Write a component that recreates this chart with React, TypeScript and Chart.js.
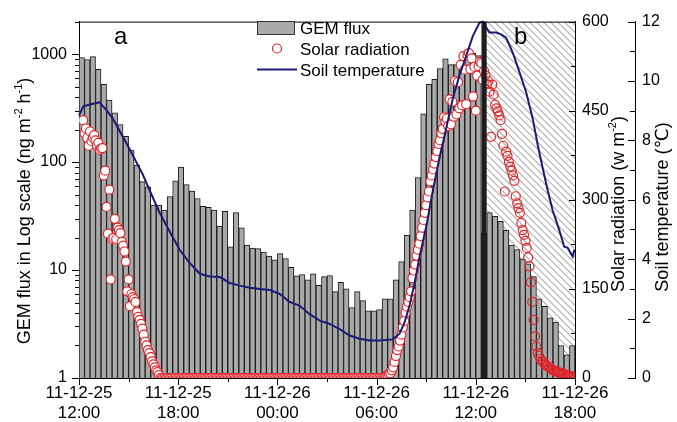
import React, { useEffect, useRef } from 'react';
import { Chart, registerables } from 'chart.js';

Chart.register(...registerables);

const FONT = '"Liberation Sans", Arial, Helvetica, "DejaVu Sans", sans-serif';

// ---- time axis (hours after 11-12-25 12:00) ----
const xTickHours = [0, 6, 12, 18, 24, 30];
const xTickDates = ['11-12-25', '11-12-25', '11-12-26', '11-12-26', '11-12-26', '11-12-26'];
const xTickTimes = ['12:00', '18:00', '00:00', '06:00', '12:00', '18:00'];
const yTicks = [1, 10, 100, 1000];
const bandTime = 24.5; // boundary between period a and b

// ---- GEM flux (ng m-2 h-1), 20-min bars from 12:00 ----
const barStep = 1 / 3;
const gemFlux = [
  929, 891, 949, 722, 526, 376, 286, 222, 173, 129,
  94, 66, 59, 40, 40, 36, 48, 67, 90, 62,
  54, 46, 39, 38, 36, 25.5, 35, 16.4, 34, 24.6,
  17, 16, 15.8, 14.7, 13.5, 12.4, 14.2, 12.8, 10.6, 8.85,
  9.1, 8.1, 9.2, 7.2, 8.7, 8.9, 6.3, 7.7, 6.7, 4.5,
  6.3, 5.2, 4.2, 4.2, 4.3, 5.4, 5.4, 8.1, 12, 21,
  36, 72, 280, 525, 585, 733, 906, 800, 800, 776,
  1100, 1024, 967, 22, 34, 31.5, 28.3, 23.3, 17, 15.5,
  12.6, 11.4, 8.7, 5.4, 4.6, 3.6, 3.3, 2.0, 1.64, 2.0,
];

// ---- Solar radiation (W m-2), 5-min values from 12:15 ----
const solarStart = 0.25;
const solarStep = 5 / 60;
const solarAfternoon = [
  434, 412, 420, 404, 391, 415, 399, 405, 409, 400,
  392, 396, 384, 386, 387, 341, 349, 288, 243, 317,
  166, 234, 236, 268, 234, 253, 249, 244, 229, 223,
  213, 196, 146, 166, 121, 141, 136, 133, 128, 111,
  103, 98, 91, 83, 73, 61, 55, 47, 42, 35,
  28, 23, 18, 13, 10, 5,
];
const solarNight = [
  0, 0, 0, 0, 0, 0, 0, 0, 0, 0,
  0, 0, 0, 0, 0, 0, 0, 0, 0, 0,
  0, 0, 0, 0, 0, 0, 0, 0, 0, 0,
  0, 0, 0, 0, 0, 0, 0, 0, 0, 0,
  0, 0, 0, 0, 0, 0, 0, 0, 0, 0,
  0, 0, 0, 0, 0, 0, 0, 0, 0, 0,
  0, 0, 0, 0, 0, 0, 0, 0, 0, 0,
  0, 0, 0, 0, 0, 0, 0, 0, 0, 0,
  0, 0, 0, 0, 0, 0, 0, 0, 0, 0,
  0, 0, 0, 0, 0, 0, 0, 0, 0, 0,
  0, 0, 0, 0, 0, 0, 0, 0, 0, 0,
  0, 0, 0, 0, 0, 0, 0, 0, 0, 0,
  0, 0, 0, 0, 0, 0, 0, 0, 0, 0,
  0, 0, 0, 0, 0, 0, 0, 0, 0, 0,
  0, 0, 0, 0, 0, 0, 0, 0, 0, 0,
  0, 0, 0, 0, 0, 0, 0, 0, 0, 0,
  0, 0, 0, 0,
];
const solarMorning = [
  4, 5, 7, 8, 13, 18, 27, 37, 47, 53,
  63, 73, 85, 96, 110, 120, 128, 136, 146, 168,
  181, 191, 206, 216, 226, 239, 253, 266, 278, 291,
  304, 314, 331, 341, 351, 361, 372, 382, 394, 400,
  412, 419, 439, 432, 437, 424, 469, 427, 465, 440,
  500, 444, 498, 454, 527, 459, 542, 519, 461, 543,
  547, 520, 538, 474, 524, 450, 509, 525, 532, 530,
  502, 517,
];
const solarNoon = [
  510, 494, 500, 482, 406, 494, 477, 460, 454, 449,
  442, 434, 411, 391, 314, 381, 374, 364, 356, 349,
  341, 332, 306, 294, 286, 278, 261, 249, 241, 231,
  219, 203, 188, 161, 128, 98, 70, 53, 42, 37,
  32, 28, 27, 23, 22, 20, 18, 17, 15, 13,
  12, 12, 10, 10, 8, 8, 7, 7, 5, 5,
  5, 3, 3, 2, 2, 0,
];

// ---- Soil temperature (°C) ----
const soilTime = [
  0, 0.26, 0.66, 1.23, 1.57, 2.04, 2.96, 3.85, 4.85, 5.66,
  6.10, 6.70, 7.31, 7.91, 8.52, 9.12, 9.72, 10.33, 10.93, 11.54,
  12.14, 12.74, 13.35, 13.95, 14.56, 15.16, 15.76, 16.37, 16.97, 17.58,
  18.18, 18.98, 19.39, 19.69, 19.99, 20.30, 20.60, 21.00, 21.40, 21.80,
  22.21, 22.61, 23.01, 23.42, 23.82, 24.22, 24.42, 24.82, 25.23, 25.53,
  25.83, 26.23, 26.64, 27.04, 27.44, 27.74, 28.04, 28.35, 28.65, 29.05,
  29.35, 29.55, 29.72, 29.86, 29.96,
];
const soilTemp = [
  8.84, 9.15, 9.21, 9.28, 9.08, 8.74, 7.81, 6.86, 5.59, 4.75,
  4.31, 3.87, 3.51, 3.42, 3.40, 3.20, 3.11, 3.04, 3.00, 2.96,
  2.83, 2.56, 2.43, 2.15, 1.93, 1.82, 1.65, 1.43, 1.32, 1.26,
  1.26, 1.30, 1.49, 1.87, 2.43, 3.20, 4.09, 5.09, 6.31, 7.41,
  8.41, 9.41, 10.18, 10.85, 11.51, 11.96, 12.0, 11.63, 11.63, 11.57,
  11.46, 10.96, 10.30, 9.63, 8.74, 7.86, 7.08, 6.31, 5.64, 4.98,
  4.42, 4.39, 4.22, 4.09, 4.32,
];

const BAR_FILL = '#a9a9a9';
const BAR_EDGE = '#1a1a1a';
const SOLAR_RED = '#e0262a';
const SOIL_NAVY = '#1b1b7a';

type Part = { t: string; sup?: boolean };
const leftTitle: Part[] = [{ t: 'GEM flux in Log scale (ng m' }, { t: '-2', sup: true }, { t: ' h' }, { t: '-1', sup: true }, { t: ')' }];
const solarTitle: Part[] = [{ t: 'Solar radiation (w m' }, { t: '-2', sup: true }, { t: ')' }];
const soilTitle: Part[] = [{ t: 'Soil temperature (\u2103)' }];

function drawVerticalRich(ctx: CanvasRenderingContext2D, parts: Part[], baseX: number, centerY: number, size: number) {
  ctx.save();
  ctx.translate(baseX, centerY);
  ctx.rotate(-Math.PI / 2);
  const supSize = Math.round(size * 0.62);
  const fMain = `${size}px ${FONT}`;
  const fSup = `${supSize}px ${FONT}`;
  let total = 0;
  for (const p of parts) {
    ctx.font = p.sup ? fSup : fMain;
    total += ctx.measureText(p.t).width;
  }
  let x = -total / 2;
  ctx.fillStyle = '#000';
  ctx.textAlign = 'left';
  ctx.textBaseline = 'alphabetic';
  for (const p of parts) {
    ctx.font = p.sup ? fSup : fMain;
    ctx.fillText(p.t, x, p.sup ? -size * 0.42 : 0);
    x += ctx.measureText(p.t).width;
  }
  ctx.restore();
}

function seg(ctx: CanvasRenderingContext2D, x1: number, y1: number, x2: number, y2: number) {
  ctx.moveTo(x1, y1);
  ctx.lineTo(x2, y2);
}

const overlayPlugin = {
  id: 'overlay',
  beforeDatasetsDraw(chart: any) {
    const { ctx, chartArea: ca, scales } = chart;
    const bx = scales.x.getPixelForValue(bandTime);
    const left = bx + 2.5;
    const H = ca.bottom - ca.top;
    ctx.save();
    ctx.beginPath();
    ctx.rect(left, ca.top, ca.right - left, H);
    ctx.clip();
    ctx.strokeStyle = '#7c7c7c';
    ctx.lineWidth = 0.9;
    ctx.beginPath();
    for (let c = left - H; c < ca.right + 2; c += 7) seg(ctx, c, ca.top, c + H, ca.bottom);
    ctx.stroke();
    ctx.restore();
  },
  afterDatasetsDraw(chart: any) {
    const { ctx, chartArea: ca, scales } = chart;
    const bx = scales.x.getPixelForValue(bandTime);
    ctx.save();
    ctx.fillStyle = '#1c1c1c';
    ctx.fillRect(bx - 2.6, ca.top, 5.2, ca.bottom - ca.top);
    // top frame
    ctx.strokeStyle = '#000';
    ctx.lineWidth = 1;
    ctx.beginPath();
    seg(ctx, ca.left, ca.top + 0.5, ca.right, ca.top + 0.5);
    ctx.stroke();
    // panel letters
    ctx.fillStyle = '#000';
    ctx.font = `24px ${FONT}`;
    ctx.textAlign = 'left';
    ctx.textBaseline = 'alphabetic';
    ctx.fillText('a', 114, 43.5);
    ctx.fillText('b', 514, 43.5);
    // legend
    ctx.font = `17px ${FONT}`;
    ctx.fillStyle = BAR_FILL;
    ctx.fillRect(257, 21, 38, 13.5);
    ctx.strokeStyle = '#333';
    ctx.strokeRect(257.5, 21.5, 37, 13);
    ctx.fillStyle = '#000';
    ctx.fillText('GEM flux', 300, 33.8);
    ctx.beginPath();
    ctx.arc(277, 48.5, 4.5, 0, Math.PI * 2);
    ctx.fillStyle = '#fff';
    ctx.fill();
    ctx.strokeStyle = SOLAR_RED;
    ctx.lineWidth = 1.2;
    ctx.stroke();
    ctx.fillStyle = '#000';
    ctx.fillText('Solar radiation', 300, 54.8);
    ctx.beginPath();
    seg(ctx, 257, 69.5, 297, 69.5);
    ctx.strokeStyle = SOIL_NAVY;
    ctx.lineWidth = 2;
    ctx.stroke();
    ctx.fillText('Soil temperature', 300, 75.8);
    ctx.restore();
  },
  afterDraw(chart: any) {
    const { ctx, chartArea: ca, scales } = chart;
    ctx.save();
    ctx.strokeStyle = '#000';
    ctx.lineWidth = 1;
    ctx.beginPath();
    // left log axis ticks (outward)
    for (let d = 1; d <= 1000; d *= 10) {
      for (let m = 1; m <= 9; m++) {
        const v = m * d;
        if (v > scales.y.max) break;
        const y = Math.round(scales.y.getPixelForValue(v)) + 0.5;
        const len = m === 1 ? 7 : 4;
        seg(ctx, ca.left - len, y, ca.left, y);
      }
    }
    // bottom ticks (outward)
    for (let t = 0; t <= 30; t += 3) {
      const x = Math.round(scales.x.getPixelForValue(t)) + 0.5;
      const len = t % 6 === 0 ? 7 : 4;
      seg(ctx, x, ca.bottom, x, ca.bottom + len);
    }
    // solar axis ticks (inward)
    for (let v = 0; v <= 600; v += 75) {
      const y = Math.round(scales.ySolar.getPixelForValue(v)) + 0.5;
      const len = v % 150 === 0 ? 6 : 4;
      seg(ctx, ca.right - len, y, ca.right, y);
    }
    // soil axis ticks (to the left of its line)
    const sx = scales.ySoil.left;
    for (let v = 0; v <= 12; v += 1) {
      const y = Math.round(scales.ySoil.getPixelForValue(v)) + 0.5;
      const len = v % 2 === 0 ? 7 : 5;
      seg(ctx, sx - len, y, sx, y);
    }
    ctx.stroke();
    ctx.restore();
    drawVerticalRich(ctx, leftTitle, 30, 211, 18);
    drawVerticalRich(ctx, solarTitle, 624, 204, 18);
    drawVerticalRich(ctx, soilTitle, 668, 207, 18);
  },
};

export default function App() {
  const ref = useRef<HTMLCanvasElement | null>(null);

  useEffect(() => {
    document.body.style.margin = '0';
    if (!ref.current) return;

    const solarValues = [...solarAfternoon, ...solarNight, ...solarMorning, ...solarNoon];
    const barData = gemFlux.map((v, k) => ({ x: (k + 0.5) * barStep, y: v }));
    const solarData = solarValues.map((v, i) => ({ x: solarStart + i * solarStep, y: v }));
    const soilData = soilTime.map((t, i) => ({ x: t, y: soilTemp[i] }));

    const tickFont = { family: FONT, size: 16 };
    const border = { display: true, color: '#000', width: 1 };

    const chart = new Chart(ref.current, {
      type: 'bar',
      data: {
        datasets: [
          {
            type: 'line',
            label: 'Soil temperature',
            data: soilData,
            xAxisID: 'x',
            yAxisID: 'ySoil',
            borderColor: SOIL_NAVY,
            borderWidth: 2,
            pointRadius: 0,
            tension: 0,
            fill: false,
            clip: 3,
            order: 0,
          } as any,
          {
            type: 'scatter',
            label: 'Solar radiation',
            data: solarData,
            xAxisID: 'x',
            yAxisID: 'ySolar',
            showLine: false,
            pointRadius: 4.5,
            pointBorderWidth: 1.2,
            pointBorderColor: SOLAR_RED,
            pointBackgroundColor: (c: any) => (c.raw && c.raw.x > bandTime ? 'rgba(255,255,255,0)' : '#ffffff'),
            clip: 0,
            order: 1,
          } as any,
          {
            type: 'bar',
            label: 'GEM flux',
            data: barData,
            xAxisID: 'x',
            yAxisID: 'y',
            backgroundColor: BAR_FILL,
            borderColor: BAR_EDGE,
            borderWidth: 1,
            barPercentage: 1,
            categoryPercentage: 1,
            order: 2,
          } as any,
        ],
      },
      options: {
        animation: false,
        responsive: false,
        devicePixelRatio: 1,
        events: [],
        layout: { padding: { top: 16, left: 0, right: 0, bottom: 0 } },
        plugins: { legend: { display: false }, tooltip: { enabled: false }, title: { display: false } },
        scales: {
          x: {
            type: 'linear',
            position: 'bottom',
            min: 0,
            max: 30,
            offset: false,
            afterFit: (s: any) => { s.height = 44; },
            afterBuildTicks: (s: any) => { s.ticks = xTickHours.map((v) => ({ value: v })); },
            grid: { display: false, drawTicks: false, offset: false },
            border,
            ticks: {
              autoSkip: false,
              maxRotation: 0,
              minRotation: 0,
              padding: 5,
              color: '#000',
              font: { family: FONT, size: 17, lineHeight: 1.2 },
              callback: (v: any) => {
                const i = xTickHours.indexOf(Number(v));
                return i >= 0 ? [xTickDates[i], xTickTimes[i]] : '';
              },
            },
          },
          y: {
            type: 'logarithmic',
            position: 'left',
            min: 1,
            max: 2000,
            afterFit: (s: any) => { s.width = 79; },
            afterBuildTicks: (s: any) => { s.ticks = yTicks.map((v) => ({ value: v })); },
            grid: { display: false, drawTicks: false },
            border,
            ticks: { padding: 12, color: '#000', font: tickFont, callback: (v: any) => String(v) },
          },
          ySolar: {
            type: 'linear',
            position: 'right',
            weight: 0,
            min: 0,
            max: 600,
            afterFit: (s: any) => { s.width = 60; },
            grid: { display: false, drawTicks: false },
            border,
            ticks: { stepSize: 150, padding: 7, color: '#000', font: tickFont },
          },
          ySoil: {
            type: 'linear',
            position: 'right',
            weight: 1,
            min: 0,
            max: 12,
            afterFit: (s: any) => { s.width = 42; },
            grid: { display: false, drawTicks: false },
            border,
            ticks: { stepSize: 2, padding: 7, color: '#000', font: tickFont },
          },
        },
      } as any,
      plugins: [overlayPlugin],
    });

    return () => chart.destroy();
  }, []);

  return (
    <div style={{ width: 677, height: 422, background: '#fff' }}>
      <canvas ref={ref} width={677} height={422} style={{ display: 'block' }} />
    </div>
  );
}
